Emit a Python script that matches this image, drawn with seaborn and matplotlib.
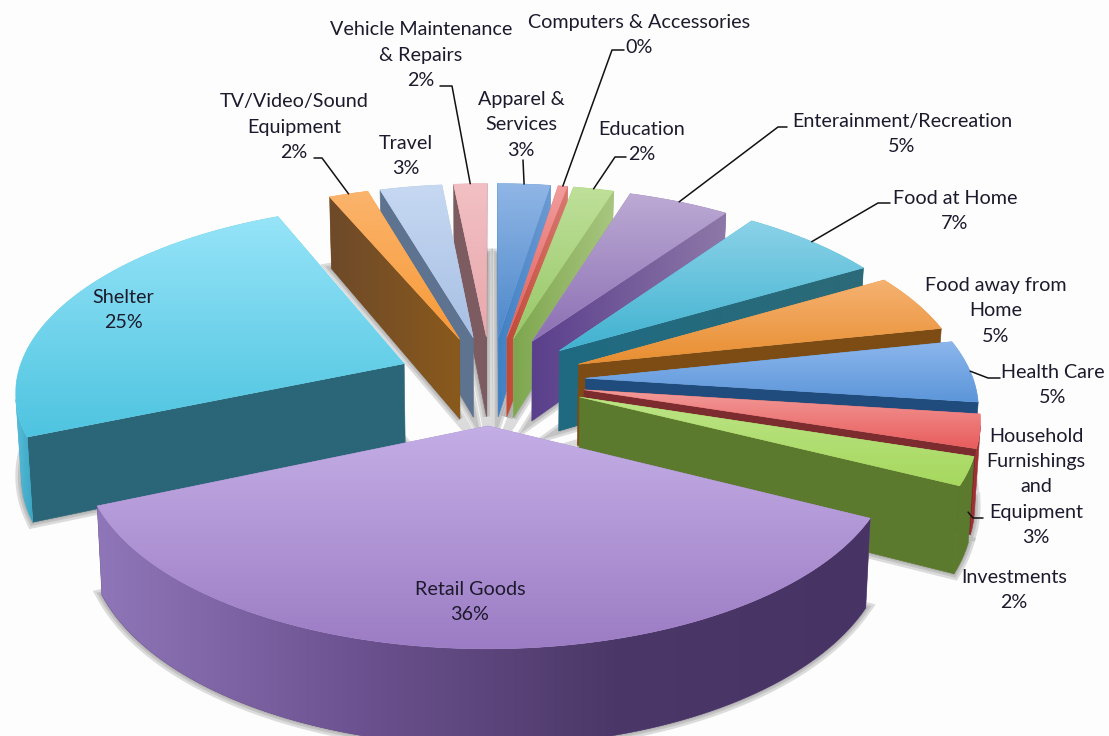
import numpy as np
import matplotlib
matplotlib.use("Agg")
import matplotlib.pyplot as plt
from matplotlib.colors import to_rgb
from matplotlib.patches import Polygon
from matplotlib.path import Path
import seaborn as sns

# Spending categories, clockwise from twelve o'clock
categories = ["Apparel &\nServices", "Computers & Accessories", "Education",
              "Enterainment/Recreation", "Food at Home", "Food away from\nHome",
              "Health Care", "Household\nFurnishings\nand\nEquipment", "Investments",
              "Retail Goods", "Shelter", "TV/Video/Sound\nEquipment", "Travel",
              "Vehicle Maintenance\n& Repairs"]
shares = [2.55, 0.45, 1.95, 4.9, 6.8, 5.05, 5.35, 2.9, 2.45, 36.2, 24.9, 1.9, 3.0, 1.6]

# Top face shading (far edge, near edge), radial wall stops, rim wall stops
top_far = ["#90b6e6", "#f29c9c", "#bfe09a", "#bcaad4", "#8ad2e8", "#f6b272", "#8cb6ec",
           "#f29a98", "#bce486", "#c4aee6", "#96e4f8", "#fbb46c", "#c6d8f2", "#f2c0c4"]
top_near = ["#4d88ca", "#e0605c", "#98c868", "#8c70b4", "#40b2d0", "#e88e30", "#5c96da",
            "#e85c5c", "#a6d85e", "#9c7cc4", "#4ec4e0", "#f89a38", "#a8c0e4", "#e8a8ac"]
radial_wall = [("#3f80c4", "#6c9ad2"), ("#c04a38", "#d87870"), ("#7ea64e", "#a8c680"),
               ("#5a3f8c", "#8e78a8"), ("#1f6a82", "#2c6a78"), ("#7c4c14",), ("#1f4c7c",),
               ("#7c2c2e",), ("#5c7a2e",), ("#6a5090",), ("#2a6678",),
               ("#6e4a2a", "#8a5a1c"), ("#5e7390",), ("#7c5c60",)]
rim_wall = [("#4784c4",), ("#c2503e",), ("#8aad5c",), ("#6e5096",), ("#236a80",),
            ("#7c4c14",), ("#2a6ca8",), ("#a03030",), ("#5c7a2e",),
            ("#8f76b8", "#6c5290", "#4c3868", "#483464"), ("#58bcd8", "#3aa6c4"),
            ("#7e5222",), ("#5e7390",), ("#7c5c60",)]

# Label block centres and leader elbows
label_xy = [(521, 125), (639, 35), (642, 142), (902, 134), (955, 211), (996, 311), (1053, 385),
            (1036, 487), (1014, 590), (470, 602), (123, 310), (294, 127), (406, 156), (421, 55)]
leaders = {0: [(523, 160)], 1: [(624, 50), (612, 50)], 2: [(626, 157), (615, 157)],
           3: [(787, 127), (778, 127)], 4: [(890, 203), (878, 203)],
           6: [(1000, 378), (988, 378)], 7: [(983, 518), (973, 518)],
           11: [(314, 158), (322, 158)], 13: [(440, 86), (452, 86)]}

# Projection of the exploded pie onto the page
CX, CY = 491.0, 380.0
SCALE_X, SCALE_Y = 388.0, 182.5
PERSPECTIVE, PERSPECTIVE_X = 0.125, 0.135
EXPLODE, DEPTH, FLOOR_SHRINK = 0.244, 82.0, 0.988


def project(x, y, floor=False):
    s = 1.0 / (1.0 + PERSPECTIVE * y)
    sx = 1.0 / (1.0 + PERSPECTIVE_X * y)
    if floor:
        return (CX + SCALE_X * x * sx * FLOOR_SHRINK, CY - SCALE_Y * y * s + DEPTH * s)
    return (CX + SCALE_X * x * sx, CY - SCALE_Y * y * s)


def gradient_polygon(ax, pts, stops, horizontal, z):
    """Fill a polygon with a linear colour ramp clipped to its outline."""
    pts = np.asarray(pts)
    rgb = np.array([to_rgb(c) for c in stops])
    mean = rgb.mean(axis=0)
    ax.add_patch(Polygon(pts, closed=True, fc=mean, ec=mean, lw=0.4, zorder=z))
    if len(stops) > 1:
        t = np.linspace(0, 1, 128)
        pos = np.linspace(0, 1, len(stops))
        ramp = np.stack([np.interp(t, pos, rgb[:, i]) for i in range(3)], axis=-1)
        ramp = ramp[None, :, :] if horizontal else ramp[:, None, :]
        x0, y0 = pts.min(axis=0)
        x1, y1 = pts.max(axis=0)
        im = ax.imshow(ramp, extent=(x0, x1, y1, y0), aspect="auto",
                       interpolation="bilinear", zorder=z + 0.1)
        im.set_clip_path(Path(np.vstack([pts, pts[:1]])), ax.transData)


sns.set_theme(style="white")
plt.rcParams["font.family"] = ["Lato", "DejaVu Sans"]

fig, ax = plt.subplots(figsize=(11.09, 7.36), dpi=100, facecolor="#fdfdfd")
ax.set_position([0, 0, 1, 1])
ax.set_facecolor("#fdfdfd")
ax.set_axis_off()

top_far = sns.color_palette(top_far)
top_near = sns.color_palette(top_near)

bounds = np.concatenate([[0], np.cumsum(shares)]) / np.sum(shares) * 2 * np.pi
mids = (bounds[:-1] + bounds[1:]) / 2
order = np.argsort(-np.cos(mids))

rim_tops = {}
for i in order:
    mid = mids[i]
    tx, ty = EXPLODE * np.sin(mid), EXPLODE * np.cos(mid)
    th = np.linspace(bounds[i], bounds[i + 1], max(3, int((bounds[i + 1] - bounds[i]) * 40)))
    ox, oy = tx + np.sin(th), ty + np.cos(th)
    ring = [(tx, ty)] + list(zip(ox, oy))
    top = [project(x, y) for x, y in ring]
    bottom = [project(x, y, floor=True) for x, y in ring]
    rim_tops[i] = (project(tx + np.sin(mid), ty + np.cos(mid)),
                   project(tx + np.sin(mid), ty + np.cos(mid), floor=True))

    # soft contact shadow on the ground
    for lw, a in ((12, 0.30), (7, 0.30), (3, 0.30)):
        ax.add_patch(Polygon(bottom, closed=True, fc="#a8a8a8", ec="#8e8e8e", alpha=a,
                             lw=lw * 0.72, joinstyle="miter", zorder=1))

    base = 10 + 3 * list(order).index(i)
    n = len(ring)
    rim_front = []
    for k in range(n):
        a, b = k, (k + 1) % n
        quad = np.array([top[a], top[b], bottom[b], bottom[a]])
        px, py = quad[:, 0], quad[:, 1]
        area = np.dot(px, np.roll(py, -1)) - np.dot(np.roll(px, -1), py)
        if area >= 0:
            continue
        if k == 0 or k == n - 1:
            gradient_polygon(ax, quad, radial_wall[i], True, base)
        else:
            rim_front.append(k)
    if rim_front:
        idx = list(range(rim_front[0], rim_front[-1] + 2))
        poly = [top[j] for j in idx] + [bottom[j] for j in reversed(idx)]
        gradient_polygon(ax, poly, rim_wall[i], True, base + 0.5)
    gradient_polygon(ax, top, (top_far[i], top_near[i]), False, base + 1)

pcts = np.asarray(shares) / np.sum(shares)
for i, (name, (x, y)) in enumerate(zip(categories, label_xy)):
    ax.text(x, y, f"{name}\n{pcts[i]:.0%}", ha="center", va="center", multialignment="center",
            fontsize=14.2, color="#1c1a2c", linespacing=1.58, zorder=200)

for i, elbow in leaders.items():
    top_pt, floor_pt = rim_tops[i]
    end = top_pt if i != 7 else (floor_pt[0] - 6, floor_pt[1] - 4)
    pts = np.array(elbow + [end])
    ax.plot(pts[:, 0], pts[:, 1], color="#111111", lw=1.1, zorder=150)

ax.set_xlim(0, 1109)
ax.set_ylim(736, 0)
fig.savefig("out.png", dpi=100, facecolor=fig.get_facecolor())
